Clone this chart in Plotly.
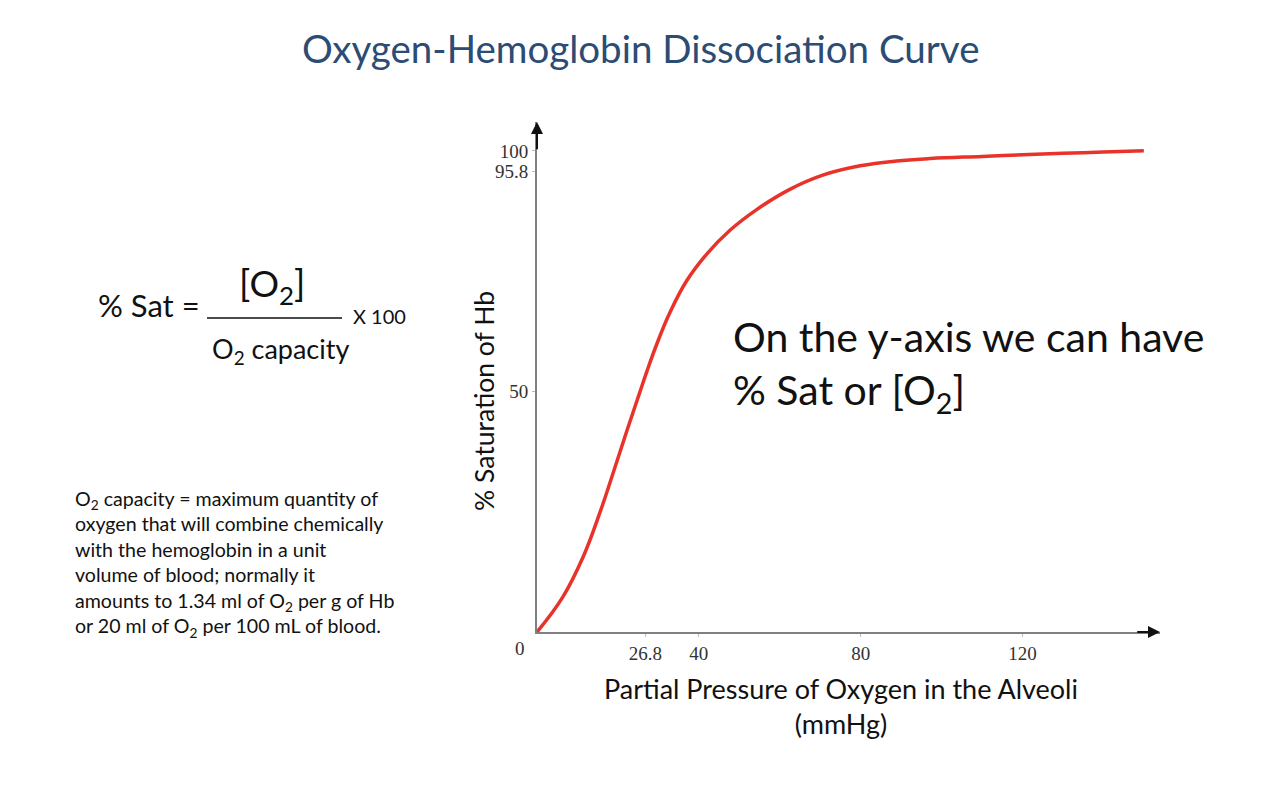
import plotly.graph_objects as go

# ---- data ----
po2 = [0, 6.4, 11.4, 15.5, 18.8, 22.1, 25.4, 27.1, 29.5, 32.8, 37.0, 41.9, 47.7, 54.3, 62.5, 70.8, 79.9, 88.9, 97.2, 110, 120, 130, 140, 150]
sat = [0, 7.3, 15.6, 24.7, 33.0, 41.5, 49.8, 54.0, 59.6, 66.3, 73.0, 78.5, 83.5, 87.8, 92.0, 95.0, 96.9, 97.9, 98.4, 98.85, 99.2, 99.5, 99.75, 100.0]

x_tickvals = [26.8, 40, 80, 120]
x_ticktext = ["26.8", "40", "80", "120"]
y_tickvals = [50, 95.8, 100]
y_ticktext = ["50", "95.8", "100"]

X_RANGE = [0, 154]
Y_RANGE = [0, 106]

W, H = 1280, 800
def px(x):
    return x / W
def py(y):
    return 1 - y / H

fig = go.Figure()
fig.add_trace(go.Scatter(
    x=po2, y=sat, mode="lines",
    line=dict(color="#E8332B", width=3.5, shape="spline", smoothing=1.2),
    hoverinfo="x+y", showlegend=False,
))

tickfont = dict(family="Liberation Serif", size=19, color="#333333")
fig.update_layout(
    width=W, height=H,
    margin=dict(l=0, r=0, t=0, b=0),
    paper_bgcolor="white", plot_bgcolor="white",
    xaxis=dict(
        domain=[px(537), px(1160)], range=X_RANGE,
        showgrid=False, zeroline=False, showline=True, linecolor="#808080", linewidth=2,
        tickvals=x_tickvals, ticktext=x_ticktext, ticks="outside", ticklen=3, tickcolor="#bbbbbb",
        tickfont=tickfont,
    ),
    yaxis=dict(
        domain=[py(632), py(122)], range=Y_RANGE,
        showgrid=False, zeroline=False, showline=True, linecolor="#808080", linewidth=2,
        tickvals=y_tickvals, ticktext=y_ticktext, ticks="outside", ticklen=3, tickcolor="#bbbbbb",
        tickfont=tickfont,
    ),
)

annotations = []
# axis arrowheads
annotations.append(dict(x=X_RANGE[1], y=0, xref="x", yref="y", ax=X_RANGE[1] - 6, ay=0,
                        axref="x", ayref="y", showarrow=True, arrowhead=2, arrowsize=1.2,
                        arrowwidth=2, arrowcolor="#111111", text=""))
annotations.append(dict(x=0, y=Y_RANGE[1], xref="x", yref="y", ax=0, ay=Y_RANGE[1] - 6,
                        axref="x", ayref="y", showarrow=True, arrowhead=2, arrowsize=1.2,
                        arrowwidth=2, arrowcolor="#111111", text=""))
# corner zero label
annotations.append(dict(x=0, y=0, xref="x", yref="y", text="0", showarrow=False,
                        xanchor="right", yanchor="top", xshift=-10, yshift=-4, font=tickfont))

# title
annotations.append(dict(x=px(640), y=py(48), xref="paper", yref="paper",
                        text="Oxygen-Hemoglobin Dissociation Curve", showarrow=False,
                        xanchor="center", yanchor="middle",
                        font=dict(family="Lato", size=38.5, color="#2B4C74")))
# axis titles
annotations.append(dict(x=px(484), y=py(401), xref="paper", yref="paper",
                        text="% Saturation of Hb", textangle=-90, showarrow=False,
                        xanchor="center", yanchor="middle",
                        font=dict(family="Lato", size=26.5, color="#111111")))
annotations.append(dict(x=px(841), y=py(706), xref="paper", yref="paper",
                        text="Partial Pressure of Oxygen in the Alveoli<br>(mmHg)", showarrow=False,
                        xanchor="center", yanchor="middle",
                        font=dict(family="Lato", size=27, color="#111111")))
# in-plot note
annotations.append(dict(x=px(731), y=py(366), xref="paper", yref="paper",
                        text="On the y-axis we can have<br>% Sat or [O<sub>2</sub>]", showarrow=False,
                        xanchor="left", yanchor="middle", align="left",
                        font=dict(family="Lato", size=41, color="#111111")))
# formula
annotations.append(dict(x=px(96), y=py(305), xref="paper", yref="paper", text="% Sat =",
                        showarrow=False, xanchor="left", yanchor="middle",
                        font=dict(family="Lato", size=31, color="#111111")))
annotations.append(dict(x=px(272), y=py(286), xref="paper", yref="paper", text="[O<sub>2</sub>]",
                        showarrow=False, xanchor="center", yanchor="middle",
                        font=dict(family="Lato", size=37, color="#111111")))
annotations.append(dict(x=px(280), y=py(350), xref="paper", yref="paper", text="O<sub>2</sub> capacity",
                        showarrow=False, xanchor="center", yanchor="middle",
                        font=dict(family="Lato", size=27, color="#111111")))
annotations.append(dict(x=px(351), y=py(316), xref="paper", yref="paper", text="X 100",
                        showarrow=False, xanchor="left", yanchor="middle",
                        font=dict(family="Lato", size=20, color="#111111")))
# paragraph
para = ("O<sub>2</sub> capacity = maximum quantity of<br>"
        "oxygen that will combine chemically<br>"
        "with the hemoglobin in a unit<br>"
        "volume of blood; normally it<br>"
        "amounts to 1.34 ml of O<sub>2</sub> per g of Hb<br>"
        "or 20 ml of O<sub>2</sub> per 100 mL of blood.")
annotations.append(dict(x=px(73), y=py(564), xref="paper", yref="paper", text=para,
                        showarrow=False, xanchor="left", yanchor="middle", align="left",
                        font=dict(family="Lato", size=19.6, color="#111111")))
fig.update_layout(annotations=annotations)

fig.add_shape(type="line", xref="paper", yref="paper", x0=px(207), x1=px(342), y0=py(318), y1=py(318),
              line=dict(color="#111111", width=1.3))

fig.write_html("out.html")
